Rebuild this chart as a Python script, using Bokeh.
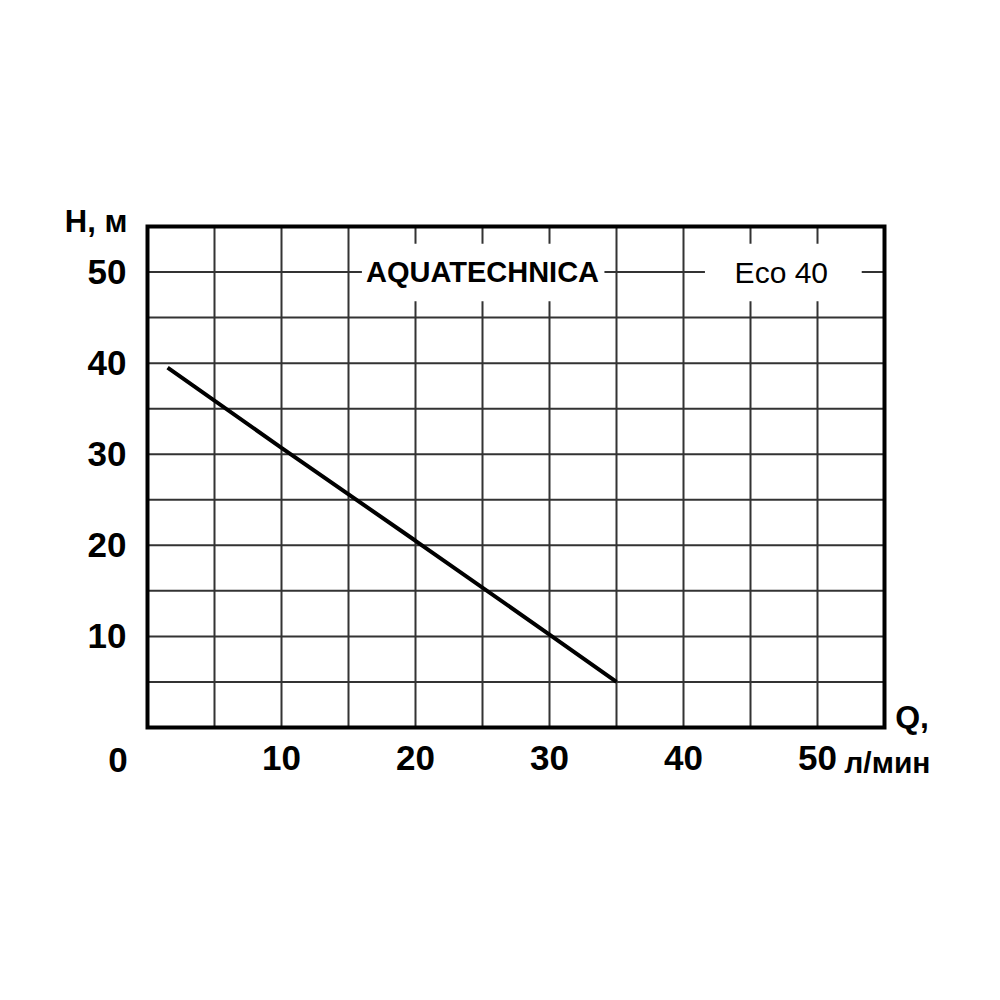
from bokeh.plotting import figure
from bokeh.models import FixedTicker, Label, Range1d
from bokeh.embed import file_html
from bokeh.resources import INLINE

# data
flow = [1.5, 10, 20, 30, 35]
head = [39.5, 30.7, 20.5, 10.2, 5.0]
x_ticks = [10, 20, 30, 40, 50]
y_ticks = [10, 20, 30, 40, 50]
grid_ticks = [5, 10, 15, 20, 25, 30, 35, 40, 45, 50]
x_max = 55
y_max = 55
brand = "AQUATECHNICA"
model = "Eco 40"
y_title = "H, м"
x_title_top = "Q,"
x_title_bottom = "л/мин"
origin_label = "0"

FONT = "Liberation Sans"

# layout (pixels): chart box position inside the canvas
CANVAS_W, CANVAS_H = 985, 830
BOX_L, BOX_T, BOX_W, BOX_H = 147, 226, 737, 501
sx = BOX_W / x_max
sy = BOX_H / y_max
x_start = -BOX_L / sx
x_end = (CANVAS_W - BOX_L) / sx
y_end = (BOX_T + BOX_H) / sy
y_start = (BOX_T + BOX_H - CANVAS_H) / sy

p = figure(width=CANVAS_W, height=CANVAS_H, output_backend="svg", toolbar_location=None,
           x_range=Range1d(x_start, x_end), y_range=Range1d(y_start, y_end),
           min_border_left=0, min_border_top=0, min_border_right=0, min_border_bottom=0,
           background_fill_color="white", border_fill_color="white")
p.frame_width = CANVAS_W
p.frame_height = CANVAS_H
p.outline_line_color = None
p.grid.visible = False

for ax in (p.xaxis[0], p.yaxis[0]):
    ax.fixed_location = 0
    ax.axis_line_color = None
    ax.major_tick_line_color = None
    ax.minor_tick_line_color = None
    ax.major_label_text_font = FONT
    ax.major_label_text_font_style = "bold"
    ax.major_label_text_font_size = "35px"
    ax.major_label_text_color = "black"
p.xaxis[0].ticker = FixedTicker(ticks=x_ticks)
p.yaxis[0].ticker = FixedTicker(ticks=y_ticks)
p.xaxis[0].major_label_standoff = 12
p.yaxis[0].major_label_standoff = 15

# grid lines inside the chart box
p.segment(x0=grid_ticks, y0=[0] * len(grid_ticks), x1=grid_ticks, y1=[y_max] * len(grid_ticks),
          line_color="#333333", line_width=2)
p.segment(x0=[0] * len(grid_ticks), y0=grid_ticks, x1=[x_max] * len(grid_ticks), y1=grid_ticks,
          line_color="#333333", line_width=2)

# white boxes behind titles
p.quad(left=[16.0, 41.6], right=[34.1, 53.3], bottom=[46.8, 46.8], top=[53.1, 53.1],
       fill_color="white", line_color=None)

# chart box border
p.quad(left=[0], right=[x_max], bottom=[0], top=[y_max], fill_color=None,
       line_color="black", line_width=4, line_join="miter")

p.line(flow, head, line_color="black", line_width=4)

def lab(x, y, text, size, bold=True, align="center"):
    p.add_layout(Label(x=x, y=y, text=text, text_font=FONT,
                       text_font_style="bold" if bold else "normal",
                       text_font_size=size, text_align=align, text_baseline="middle",
                       text_color="black"))

lab(25.0, 50, brand, "29px")
lab(47.3, 50, model, "30px", bold=False)
lab(-1.5, 55.6, y_title, "31px", align="right")
lab(55.8, 1.1, x_title_top, "32px", align="left")
lab(52.0, -3.8, x_title_bottom, "30px", align="left")
lab(-2.2, -3.6, origin_label, "35px")

open("out.html", "w").write(file_html(p, INLINE))
